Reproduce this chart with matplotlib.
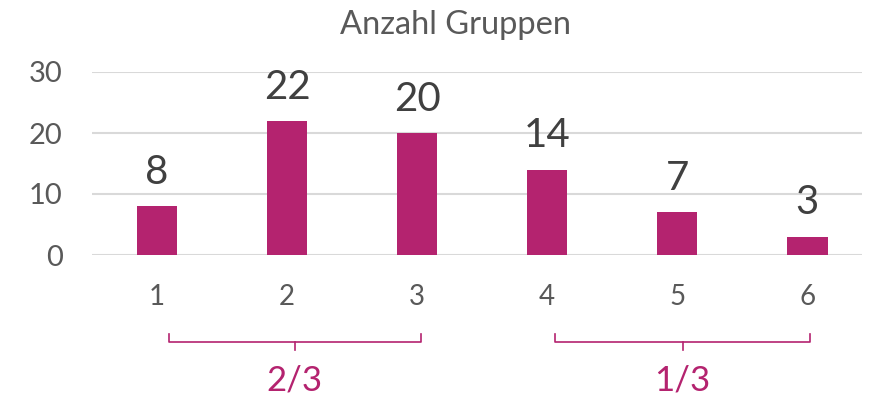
import matplotlib
matplotlib.use("Agg")
import matplotlib.pyplot as plt
import matplotlib.transforms as mtransforms

categories = ["1", "2", "3", "4", "5", "6"]
values = [8, 22, 20, 14, 7, 3]
group_labels = ["2/3", "1/3"]
group_spans = [(0, 2), (3, 5)]
yticks = [0, 10, 20, 30]

BAR = "#B4236F"
GRAY = "#595959"
DARK = "#404040"
plt.rcParams['font.family'] = ['Lato', 'DejaVu Sans']

fig = plt.figure(figsize=(8.72, 4.01), dpi=100)
ax = fig.add_axes([92/872, 1-255/401, (862-92)/872, (255-72)/401])
x = list(range(len(categories)))
ax.bar(x, values, width=0.31, color=BAR, zorder=3)
ax.set_xlim(-0.5, 5.42)
ax.set_ylim(0, 30)
ax.set_yticks(yticks)
ax.set_yticklabels([str(t) for t in yticks], fontsize=21, color=GRAY)
ax.set_xticks(x)
ax.set_xticklabels(categories, fontsize=20, color=GRAY)
ax.tick_params(axis='y', length=0, pad=21)
ax.tick_params(axis='x', length=0, pad=21)
ax.grid(axis='y', color="#D9D9D9", linewidth=1.5, zorder=0)
for s in ax.spines.values():
    s.set_visible(False)

for xi, v in zip(x, values):
    ax.annotate(str(v), (xi, v), xytext=(0, 11), textcoords='offset points',
                ha='center', va='bottom', fontsize=29, color=DARK, clip_on=False)

fig.text(455/872, 1-25/401, "Anzahl Gruppen", ha='center', va='center',
         fontsize=23.5, color=GRAY)

trans = mtransforms.blended_transform_factory(ax.transData, ax.transAxes)
ybar, ytop, ymid = -0.475, -0.43, -0.52
for (a, b), lab in zip(group_spans, group_labels):
    x0, x1 = a + 0.09 - (0.03 if a else 0), b + 0.03 - (0.01 if a else 0)
    xm = (x0 + x1) / 2
    ax.plot([x0, x0, x1, x1], [ytop, ybar, ybar, ytop], transform=trans,
            color=BAR, lw=1.2, clip_on=False)
    ax.plot([xm, xm], [ybar, ymid], transform=trans, color=BAR, lw=1.2, clip_on=False)
    ax.annotate(lab, (xm, 0), xycoords=('data', 'figure pixels'), xytext=(0, 4),
                textcoords='offset pixels', ha='center', va='bottom',
                fontsize=25, color=BAR)

fig.savefig("out.png", dpi=100)
